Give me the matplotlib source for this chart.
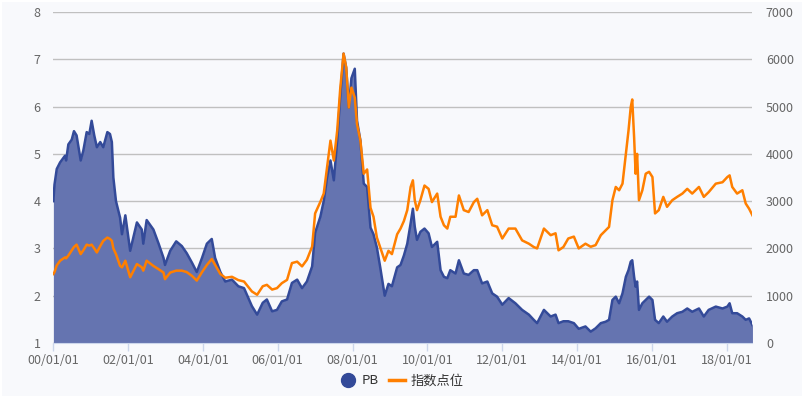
import matplotlib
matplotlib.use("Agg")
import matplotlib.pyplot as plt
import matplotlib.dates as mdates
from matplotlib.lines import Line2D
import pandas as pd
import numpy as np

plt.rcParams['font.family'] = ['Noto Sans CJK SC', 'DejaVu Sans']

# decimal-year positions of the samples
t_year = [2000.01, 2000.04, 2000.10, 2000.19, 2000.32, 2000.35, 2000.41, 2000.50, 2000.56,
          2000.63, 2000.74, 2000.81, 2000.90, 2000.97,
          2001.03, 2001.10, 2001.17, 2001.26, 2001.34, 2001.45, 2001.52, 2001.57, 2001.61,
          2001.68, 2001.79, 2001.84, 2001.93,
          2002.06, 2002.24, 2002.37, 2002.41, 2002.50, 2002.68, 2002.82, 2002.95, 2002.99,
          2003.13, 2003.29, 2003.44, 2003.57, 2003.71, 2003.84, 2003.98,
          2004.11, 2004.24, 2004.33, 2004.47, 2004.60, 2004.78, 2004.95,
          2005.10, 2005.31, 2005.45, 2005.60, 2005.71, 2005.85, 2005.98,
          2006.11, 2006.25, 2006.38, 2006.52, 2006.65, 2006.78, 2006.92,
          2007.00, 2007.14, 2007.23, 2007.32, 2007.41, 2007.50, 2007.59, 2007.67, 2007.76,
          2007.83, 2007.90, 2007.97, 2008.06, 2008.12, 2008.21, 2008.30, 2008.39, 2008.48,
          2008.56, 2008.65, 2008.74, 2008.86, 2008.96, 2009.05, 2009.19, 2009.28, 2009.37,
          2009.46, 2009.55, 2009.61, 2009.66, 2009.72, 2009.81, 2009.92,
          2010.03, 2010.12, 2010.26, 2010.35, 2010.44, 2010.53, 2010.61, 2010.75, 2010.84, 2010.97,
          2011.10, 2011.24, 2011.33, 2011.46, 2011.60, 2011.73, 2011.86,
          2012.00, 2012.17, 2012.35, 2012.53, 2012.71, 2012.84, 2012.93,
          2013.11, 2013.29, 2013.42, 2013.50, 2013.63, 2013.76, 2013.91,
          2014.04, 2014.22, 2014.36, 2014.49, 2014.63, 2014.76, 2014.85, 2014.94,
          2015.03, 2015.12, 2015.21, 2015.30, 2015.37, 2015.43, 2015.47, 2015.52, 2015.56,
          2015.60, 2015.65, 2015.74, 2015.83, 2015.92,
          2016.01, 2016.08, 2016.18, 2016.30, 2016.40, 2016.54, 2016.67, 2016.81, 2016.94,
          2017.07, 2017.25, 2017.38, 2017.51, 2017.70, 2017.88,
          2018.01, 2018.07, 2018.14, 2018.27, 2018.41, 2018.50, 2018.59, 2018.68]

pb = [4.00, 4.35, 4.68, 4.82, 4.96, 4.86, 5.20, 5.30, 5.48,
      5.39, 4.86, 5.07, 5.46, 5.42,
      5.70, 5.39, 5.14, 5.25, 5.14, 5.46, 5.42, 5.25, 4.50,
      4.00, 3.65, 3.30, 3.70,
      2.95, 3.55, 3.40, 3.10, 3.60, 3.40, 3.10, 2.80, 2.65,
      2.95, 3.15, 3.05, 2.90, 2.70, 2.50, 2.80,
      3.10, 3.20, 2.80, 2.50, 2.30, 2.34, 2.20,
      2.16, 1.78, 1.60, 1.85, 1.92, 1.67, 1.70,
      1.88, 1.92, 2.27, 2.34, 2.16, 2.30, 2.62,
      3.33, 3.67, 4.00, 4.50, 4.86, 4.44, 5.28, 6.20, 7.12,
      6.82, 5.98, 6.60, 6.80, 5.70, 5.28, 4.37, 4.30, 3.44,
      3.30, 3.02, 2.60, 2.00, 2.25, 2.20, 2.60, 2.65, 2.85,
      3.10, 3.53, 3.84, 3.46, 3.18, 3.35, 3.42,
      3.32, 3.03, 3.14, 2.54, 2.40, 2.37, 2.54, 2.47, 2.75, 2.47,
      2.44, 2.54, 2.54, 2.26, 2.30, 2.05, 1.98,
      1.81, 1.95, 1.84, 1.70, 1.60, 1.49, 1.42,
      1.70, 1.56, 1.60, 1.42, 1.46, 1.46, 1.42,
      1.30, 1.35, 1.24, 1.31, 1.42, 1.45, 1.49, 1.91,
      1.98, 1.84, 2.05, 2.40, 2.54, 2.72, 2.75, 2.40, 2.19,
      2.30, 1.70, 1.84, 1.91, 1.98,
      1.91, 1.49, 1.42, 1.56, 1.45, 1.56, 1.63, 1.66, 1.73,
      1.66, 1.73, 1.56, 1.70, 1.77, 1.73,
      1.77, 1.84, 1.63, 1.63, 1.56, 1.49, 1.52, 1.38]

index_pts = [1460, 1500, 1640, 1740, 1810, 1790, 1850, 1960, 2030,
             2080, 1880, 1960, 2080, 2060,
             2080, 2000, 1915, 2050, 2160, 2230, 2200, 2160, 2000,
             1880, 1630, 1600, 1740,
             1390, 1670, 1600, 1530, 1740, 1630, 1560, 1490, 1350,
             1490, 1530, 1530, 1500, 1420, 1320, 1500,
             1650, 1775, 1650, 1460, 1380, 1400, 1330,
             1300, 1090, 1020, 1200, 1230, 1130, 1160,
             1265, 1335, 1690, 1720, 1620, 1760, 2040,
             2740, 2985, 3160, 3720, 4280, 3860, 4490, 5370, 6120,
             5830, 4980, 5400, 5190, 4630, 4280, 3580, 3670, 2860,
             2670, 2230, 2020, 1740, 1950, 1880, 2300, 2420, 2580,
             2810, 3300, 3440, 3020, 2810, 3020, 3330,
             3260, 2980, 3160, 2670, 2490, 2420, 2670, 2670, 3120, 2810,
             2770, 2980, 3050, 2700, 2810, 2490, 2460,
             2210, 2420, 2420, 2170, 2100, 2030, 2000,
             2420, 2280, 2320, 1960, 2030, 2210, 2250,
             2000, 2100, 2035, 2070, 2280, 2385, 2455, 3020,
             3300, 3230, 3370, 4000, 4490, 4990, 5150, 4350, 3580,
             4000, 3020, 3230, 3580, 3620,
             3510, 2740, 2810, 3090, 2880, 3020, 3090, 3160, 3260,
             3160, 3300, 3090, 3190, 3370, 3400,
             3510, 3545, 3300, 3160, 3230, 2950, 2840, 2700]

x_tick_years = [2000, 2002, 2004, 2006, 2008, 2010, 2012, 2014, 2016, 2018]
left_ticks = [1, 2, 3, 4, 5, 6, 7, 8]
right_ticks = [0, 1000, 2000, 3000, 4000, 5000, 6000, 7000]


def to_date(y):
    yr = int(np.floor(y))
    return pd.Timestamp(year=yr, month=1, day=1) + pd.Timedelta(days=(y - yr) * 365.25)


dates = [to_date(y) for y in t_year]

BG = '#f8f9fc'
AREA = '#6574b0'
EDGE = '#334a99'
ORANGE = '#ff7f00'
TXT = '#666666'

fig = plt.figure(figsize=(8.04, 3.98), dpi=100, facecolor='white')
fig.patches.append(plt.Rectangle((2 / 804, 2 / 398), 800 / 804, 394 / 398,
                                 transform=fig.transFigure, facecolor=BG,
                                 edgecolor='none', zorder=-10))
ax = fig.add_axes([53 / 804, 1 - 343 / 398, 699 / 804, 331 / 398])
ax.set_facecolor('none')

ax.fill_between(dates, pb, 1, color=AREA, linewidth=0, zorder=2)
ax.plot(dates, pb, color=EDGE, linewidth=1.8, zorder=3)

ax.set_ylim(1, 8)
ax.set_yticks(left_ticks)
ax.set_xlim(pd.Timestamp('2000-01-01'), to_date(2018.668))
ax.set_xticks([pd.Timestamp(year=y, month=1, day=1) for y in x_tick_years])
ax.xaxis.set_major_formatter(mdates.DateFormatter('%y/%m/%d'))
ax.grid(axis='y', color='#c0c0c0', linewidth=1, zorder=1)
ax.set_axisbelow(True)
for s in ['top', 'right', 'left']:
    ax.spines[s].set_visible(False)
ax.spines['bottom'].set_color('#ccd6eb')
ax.spines['bottom'].set_zorder(5)
ax.tick_params(axis='x', colors='#ccd6eb', length=6, width=1, labelcolor=TXT,
               labelsize=9, pad=2)
ax.tick_params(axis='y', length=0, labelcolor=TXT, labelsize=9, pad=9)

ax2 = ax.twinx()
ax2.plot(dates, index_pts, color=ORANGE, linewidth=1.8, zorder=4)
ax2.set_ylim(0, 7000)
ax2.set_yticks(right_ticks)
for s in ['top', 'right', 'left', 'bottom']:
    ax2.spines[s].set_visible(False)
ax2.tick_params(axis='y', length=0, labelcolor=TXT, labelsize=9, pad=10)

handles = [Line2D([], [], marker='o', linestyle='none', markersize=10,
                  markerfacecolor=EDGE, markeredgecolor=EDGE),
           Line2D([], [], color=ORANGE, linewidth=2.5)]
fig.legend(handles, ['PB', '指数点位'], loc='center', bbox_to_anchor=(0.5, 1 - 381 / 398),
           ncol=2, frameon=False, fontsize=9.5, handlelength=1.2, handletextpad=0.4,
           columnspacing=0.8, labelcolor='#333333')

fig.savefig('out.png', dpi=100, facecolor='white')
